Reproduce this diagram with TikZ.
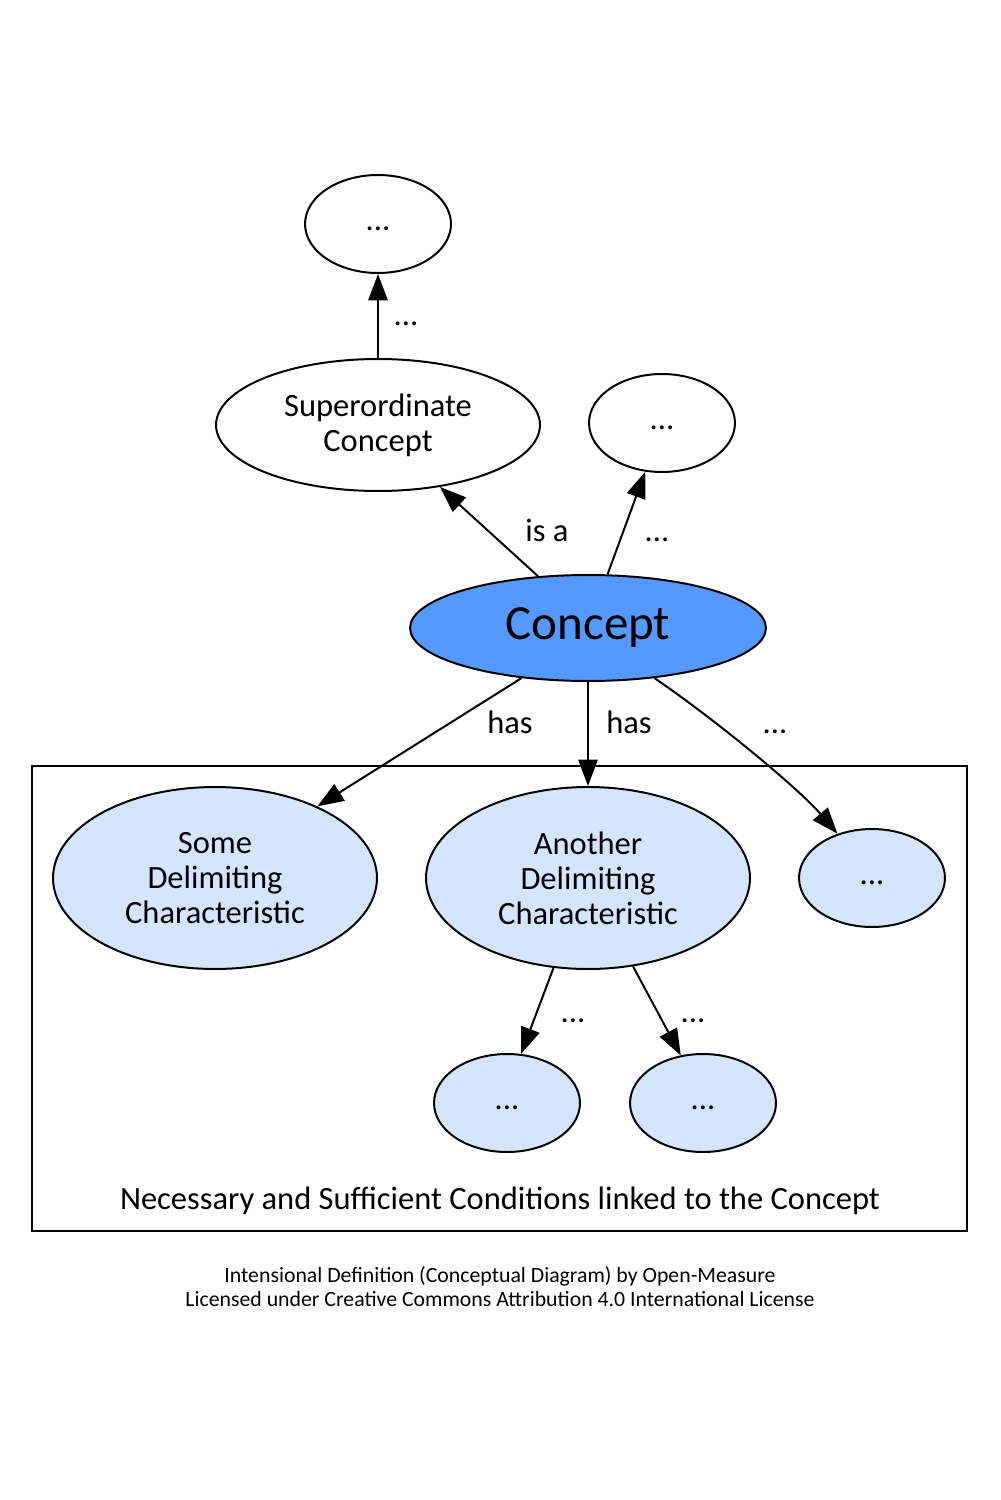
\documentclass[tikz,border=0pt]{standalone}
\usepackage{fontspec}
\setmainfont{Carlito}
\usetikzlibrary{shapes.geometric,arrows.meta}
\definecolor{conceptblue}{HTML}{5599FF}
\definecolor{charblue}{HTML}{D5E5FF}
\tikzset{
	every node/.style={inner sep=0pt,font=\fontsize{18.5}{20}\selectfont,align=center},
	oval/.style={ellipse,draw,line width=1.13pt},
	dots/.style={oval,minimum width=2.92cm,minimum height=1.96cm,text height=12pt,text depth=5pt},
	link/.style={line width=1.13pt,-{Triangle[length=15pt,width=11pt]}},
	lbl/.style={anchor=base}
}
\begin{document}
\begin{tikzpicture}[x=0.02cm,y=-0.02cm]
	\useasboundingbox (0,0) rectangle (1000,1500);
	% concept hierarchy
	\node[dots] (top) at (378,224) {...};
	\node[oval,minimum width=6.48cm,minimum height=2.64cm] (super) at (378,425) {Superordinate\\Concept};
	\node[dots] (rtop) at (662,423) {...};
	\node[oval,fill=conceptblue,minimum width=7.12cm,minimum height=2.12cm,font=\fontsize{27.9}{30}\selectfont] (concept) at (588,628) {Concept};
	% conditions
	\draw[line width=1.13pt] (32,766) rectangle (967,1231);
	\node[oval,fill=charblue,minimum width=6.48cm,minimum height=3.64cm] (some) at (215,878) {Some\\Delimiting\\Characteristic};
	\node[oval,fill=charblue,minimum width=6.48cm,minimum height=3.64cm] (another) at (588,878) {Another\\Delimiting\\Characteristic};
	\node[dots,fill=charblue] (rdots) at (872,878) {...};
	\node[dots,fill=charblue] (bl) at (507,1103) {...};
	\node[dots,fill=charblue] (br) at (703,1103) {...};
	\node (cond) at (500,1201) {Necessary and Sufficient Conditions linked to the Concept};
	% edges
	\draw[link] (super.north) -- (top.south);
	\draw[link] (concept.134) -- (super.-45);
	\draw[link] (concept.70) -- (rtop.-109);
	\draw[link] (concept.-143) -- (some.35);
	\draw[link] (concept.south) -- (another.north);
	\draw[link] (concept.-37) .. controls (720,723) and (800,790) .. (rdots.128);
	\draw[link] (another.-111) -- (bl.74);
	\draw[link] (another.-63) -- (br.115);
	% edge labels
	\node[lbl] (l1) at (406,326) {...};
	\node[lbl] (l2) at (547,541) {is a};
	\node[lbl] (l3) at (657,541) {...};
	\node[lbl] (l4) at (510,733) {has};
	\node[lbl] (l5) at (629,733) {has};
	\node[lbl] (l6) at (775,733) {...};
	\node[lbl] (l7) at (573,1022) {...};
	\node[lbl] (l8) at (693,1022) {...};
	% footer
	\node[font=\fontsize{12.4}{13.6}\selectfont] (credit) at (500,1287) {Intensional Definition (Conceptual Diagram) by Open-Measure\\Licensed under Creative Commons Attribution 4.0 International License};
\end{tikzpicture}
\end{document}
